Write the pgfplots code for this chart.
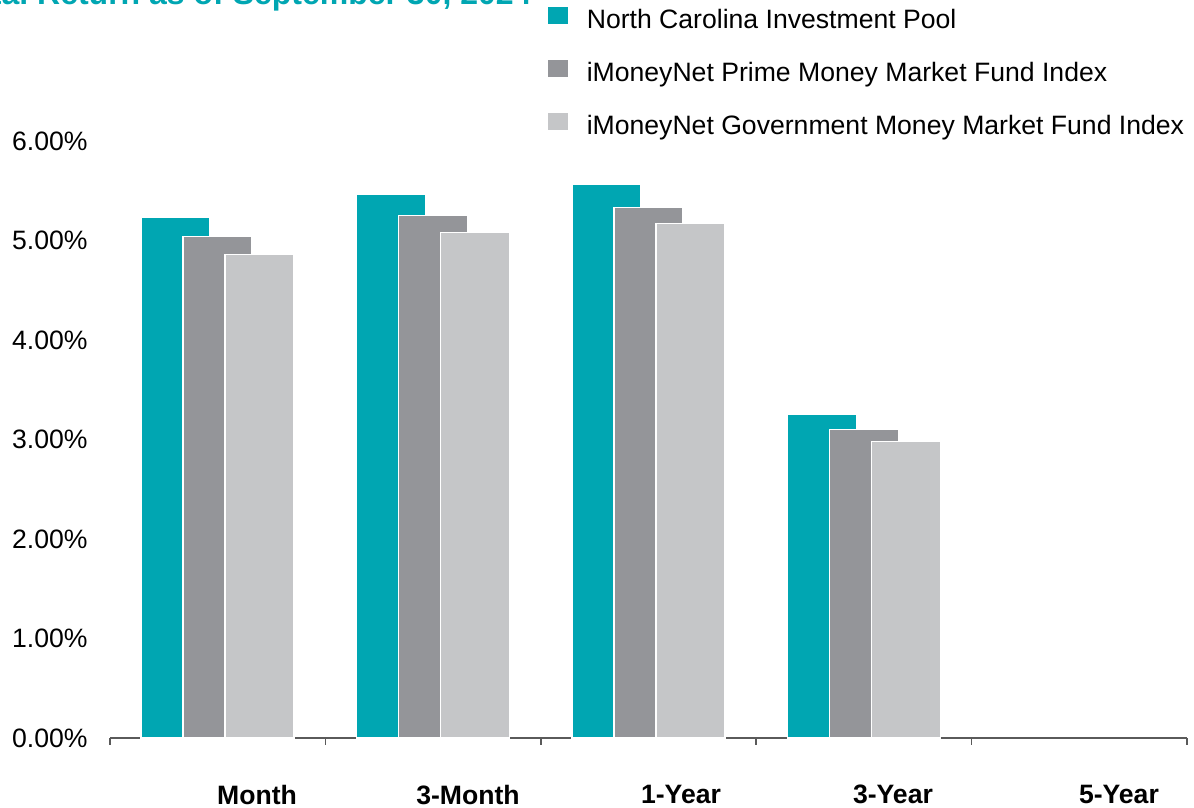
\documentclass[border=0pt]{standalone}
\usepackage{pgfplots}
\pgfplotsset{compat=1.18}
\usepackage{fontspec}
\setmainfont{Liberation Sans}
\definecolor{ncteal}{RGB}{0,166,178}
\definecolor{primeg}{RGB}{148,149,153}
\definecolor{govg}{RGB}{197,198,200}
\definecolor{axg}{RGB}{90,90,90}
\begin{document}
\begin{tikzpicture}
\pgfplotsset{sq legend/.style={legend image code/.code={\fill[##1,draw=none] (0pt,-1.2pt) rectangle (9.7pt,7.5pt);}}}
\begin{axis}[
  at={(55pt,35pt)}, anchor=south west,
  scale only axis, width=538.5pt, height=298.5pt,
  xmin=-0.5, xmax=4.5, ymin=0, ymax=6,
  clip=false,
  ybar, bar width=34.5pt,
  axis lines*=left,
  x axis line style={draw=axg, line width=0.75pt},
  y axis line style={draw=none},
  xtick={-0.5,0.5,1.5,2.5,3.5,4.5},
  xticklabels={},
  xtick style={draw=axg, line width=0.75pt},
  tick align=outside,
  major tick length=3.5pt,
  extra x ticks={0.1825,1.162,2.151,3.135,4.184},
  extra x tick labels={Month,3-Month,1-Year,3-Year,5-Year},
  extra x tick style={major tick length=0pt, tick style={draw=none}},
  xticklabel style={font=\fontsize{13.3}{16}\selectfont\bfseries, inner sep=0pt, anchor=north, yshift=-23.5pt},
  ytick={0,1,2,3,4,5,6},
  yticklabels={0.00\%,1.00\%,2.00\%,3.00\%,4.00\%,5.00\%,6.00\%},
  ytick style={draw=none},
  yticklabel style={font=\fontsize{13.3}{16}\selectfont, inner sep=0pt, anchor=east, xshift=-7.5pt},
  legend style={at={(0.4067,1.2253)}, anchor=north west, draw=none, fill=none, inner sep=0pt,
    font=\fontsize{13.3}{16}\selectfont, row sep=12.5pt, column sep=9.5pt,
    nodes={inner sep=0pt, text height=10pt, text depth=3pt}},
  legend cell align=left,
]
\addplot[ybar, sq legend, bar shift=-21pt, fill=ncteal, draw=white, line width=0.75pt]
  coordinates {(0,5.23) (1,5.46) (2,5.57) (3,3.25)};
\addplot[ybar, sq legend, bar shift=0pt, fill=primeg, draw=white, line width=0.75pt]
  coordinates {(0,5.04) (1,5.25) (2,5.33) (3,3.10)};
\addplot[ybar, sq legend, bar shift=21pt, fill=govg, draw=white, line width=0.75pt]
  coordinates {(0,4.86) (1,5.08) (2,5.17) (3,2.98)};
\legend{North Carolina Investment Pool, iMoneyNet Prime Money Market Fund Index, iMoneyNet Government Money Market Fund Index}
\end{axis}
\node[anchor=base east, inner sep=0pt, text=ncteal, font=\fontsize{16}{19}\selectfont\bfseries] at (266pt,401.85pt) {Total Return as of September 30, 2024};
\pgfresetboundingbox
\useasboundingbox (0,0) rectangle (597pt,404pt);
\end{tikzpicture}
\end{document}
